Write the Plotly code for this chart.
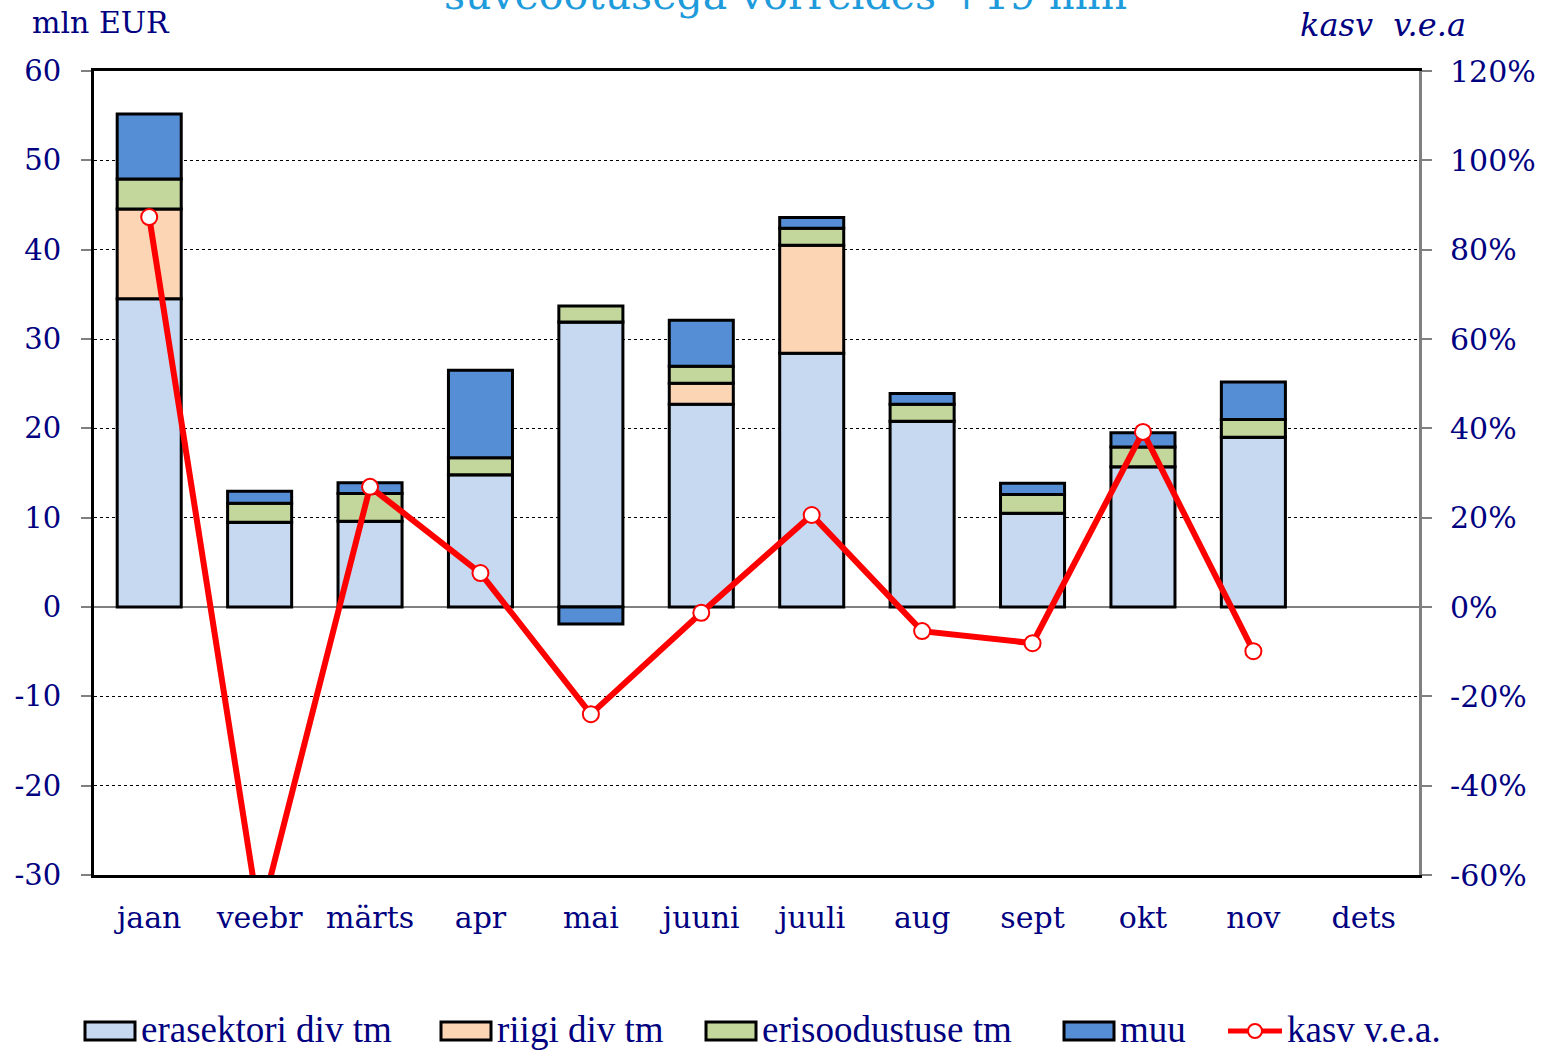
import plotly.graph_objects as go

months = ["jaan", "veebr", "märts", "apr", "mai", "juuni", "juuli", "aug", "sept", "okt", "nov", "dets"]
erasektori = [34.5, 9.5, 9.6, 14.8, 31.9, 22.7, 28.4, 20.8, 10.5, 15.7, 19.0, None]
riigi = [10.05, 0, 0, 0, 0, 2.35, 12.1, 0, 0, 0, 0, None]
erisoodustuse = [3.35, 2.1, 3.1, 1.9, 1.8, 1.9, 1.9, 1.9, 2.1, 2.2, 2.0, None]
muu = [7.3, 1.35, 1.2, 9.8, -1.9, 5.15, 1.2, 1.2, 1.25, 1.6, 4.2, None]
kasv = [87.3, -70.0, 26.9, 7.6, -24.0, -1.3, 20.6, -5.4, -8.1, 39.2, -9.9, None]

y_ticks = [-30, -20, -10, 0, 10, 20, 30, 40, 50, 60]
y_ticktext = ["-30", "-20", "-10", "0", "10", "20", "30", "40", "50", "60"]
y2_ticks = [-60, -40, -20, 0, 20, 40, 60, 80, 100, 120]
y2_ticktext = ["-60%", "-40%", "-20%", "0%", "20%", "40%", "60%", "80%", "100%", "120%"]

names = ["erasektori div tm", "riigi div tm", "erisoodustuse tm", "muu"]
colors = ["#C6D9F1", "#FCD5B5", "#C3D69B", "#558ED5"]
series = [erasektori, riigi, erisoodustuse, muu]

NAVY = "#000080"
FONT = "DejaVu Serif"

W, H = 1544, 1050
# plot area in pixels
L, R, T, B = 94, 1419, 71, 875

def px(x):
    return (x - L) / (R - L)

def py(y):
    return (B - y) / (B - T)

fig = go.Figure()
for name, col, vals in zip(names, colors, series):
    fig.add_trace(go.Bar(
        x=months, y=vals, name=name, marker_color=col,
        marker_line_color="black", marker_line_width=3,
        showlegend=False,
    ))

fig.add_trace(go.Scatter(
    x=months, y=kasv, name="kasv v.e.a.", yaxis="y2", mode="lines+markers",
    line=dict(color="#FF0000", width=6),
    marker=dict(symbol="circle", size=16, color="white", line=dict(color="#FF0000", width=2)),
    showlegend=False,
))

fig.update_layout(
    width=W, height=H,
    margin=dict(l=L, r=W - R, t=T, b=H - B, autoexpand=False),
    paper_bgcolor="white", plot_bgcolor="white",
    barmode="relative", bargap=0.42,
    font=dict(family=FONT, color=NAVY, size=29),
    xaxis=dict(
        type="category", range=[-0.5, len(months) - 0.5],
        showline=True, linecolor="black", linewidth=3, mirror=True,
        ticks="", tickfont=dict(size=30, color=NAVY, family=FONT), automargin=False,
        ticklabelstandoff=14, showgrid=False, zeroline=False,
    ),
    yaxis=dict(
        range=[-30, 60], tickvals=y_ticks, ticktext=y_ticktext,
        showline=True, linecolor="black", linewidth=3, automargin=False,
        ticks="outside", ticklen=10, tickcolor="#808080", tickwidth=2,
        tickfont=dict(size=29, color=NAVY, family=FONT), ticklabelstandoff=14,
        showgrid=True, gridcolor="black", gridwidth=1, griddash="dot",
        zeroline=True, zerolinecolor="#808080", zerolinewidth=2,
    ),
    yaxis2=dict(
        range=[-60, 120], tickvals=y2_ticks, ticktext=y2_ticktext,
        overlaying="y", side="right", automargin=False,
        showline=True, linecolor="#808080", linewidth=3,
        ticks="outside", ticklen=10, tickcolor="#808080", tickwidth=2,
        tickfont=dict(size=30, color=NAVY, family=FONT), ticklabelstandoff=12,
        showgrid=False, zeroline=False,
    ),
)

annotations = [
    dict(text="mln EUR", x=px(30), y=py(22), xanchor="left", yanchor="middle",
         font=dict(size=30, color=NAVY, family=FONT)),
    dict(text="<i>kasv  v.e.a</i>", x=px(1298), y=py(25), xanchor="left", yanchor="middle",
         font=dict(size=32, color=NAVY, family=FONT)),
    dict(text="suveootusega võrreldes +19 mln", x=px(785), y=py(21), xanchor="center", yanchor="bottom",
         font=dict(size=41, color="#1E9BDB", family=FONT)),
]

shapes = []
legend_items = [
    ("box", colors[0], 85, names[0]),
    ("box", colors[1], 441, names[1]),
    ("box", colors[2], 706, names[2]),
    ("box", colors[3], 1064, names[3]),
    ("line", "#FF0000", 1228, "kasv v.e.a."),
]
LY = 1031
for kind, col, x0, label in legend_items:
    if kind == "box":
        shapes.append(dict(type="rect", xref="paper", yref="paper",
                           x0=px(x0), x1=px(x0 + 50), y0=py(LY + 9), y1=py(LY - 9),
                           fillcolor=col, line=dict(color="black", width=3)))
        tx = x0 + 54
    else:
        shapes.append(dict(type="line", xref="paper", yref="paper",
                           x0=px(x0), x1=px(x0 + 54), y0=py(LY), y1=py(LY),
                           line=dict(color=col, width=5)))
        shapes.append(dict(type="circle", xref="paper", yref="paper",
                           x0=px(x0 + 20), x1=px(x0 + 34), y0=py(LY + 7), y1=py(LY - 7),
                           fillcolor="white", line=dict(color=col, width=2)))
        tx = x0 + 57
    annotations.append(dict(text=label, x=px(tx), y=py(LY - 2), xanchor="left", yanchor="middle",
                            font=dict(size=37, color=NAVY, family="Liberation Serif")))

for a in annotations:
    a.update(xref="paper", yref="paper", showarrow=False)

fig.update_layout(annotations=annotations, shapes=shapes)

fig.write_html("out.html", config={"displayModeBar": False},
               post_script="document.body.style.margin='0px';")
